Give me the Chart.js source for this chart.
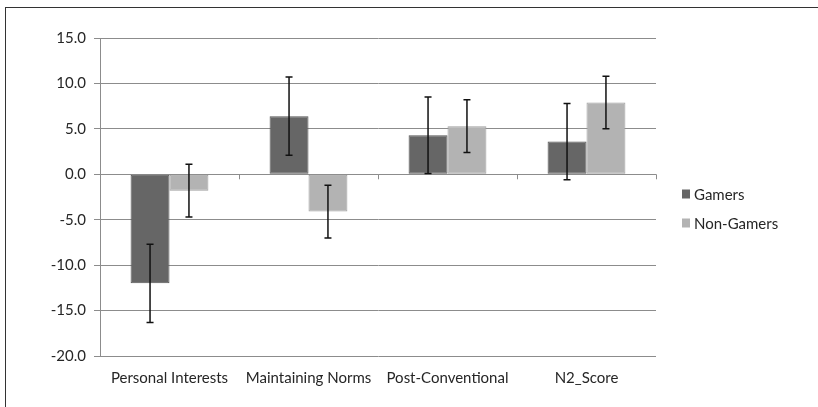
<!DOCTYPE html>
<html>
<head>
<meta charset="utf-8">
<script src="https://cdn.jsdelivr.net/npm/chart.js@4"></script>
<style>
  html, body { margin: 0; padding: 0; background: #fff; }
  #wrap { position: relative; width: 818px; height: 407px; overflow: hidden; }
  #frame { position: absolute; left: 5px; top: 7px; width: 900px; height: 500px; border: 1px solid #333; }
  #box { position: absolute; left: 0; top: 0; width: 818px; height: 407px; }
</style>
</head>
<body>
<div id="wrap">
  <div id="frame"></div>
  <div id="box"><canvas id="chart"></canvas></div>
</div>
<script>
const categories = ["Personal Interests", "Maintaining Norms", "Post-Conventional", "N2_Score"];
const gamers = [-12.0, 6.4, 4.3, 3.6];
const gamersErr = [4.3, 4.3, 4.2, 4.2];
const nonGamers = [-1.8, -4.1, 5.3, 7.9];
const nonGamersErr = [2.9, 2.9, 2.9, 2.9];
const errors = [gamersErr, nonGamersErr];

const FONT = "Lato, 'Open Sans', sans-serif";
const TEXT = "#262626";

// error bars + small ticks on the zero line
const extras = {
  id: "extras",
  afterDatasetsDraw(chart) {
    const ctx = chart.ctx;
    const y = chart.scales.y;
    const x = chart.scales.x;
    ctx.save();
    // zero-line ticks
    ctx.strokeStyle = "#8c8c8c";
    ctx.lineWidth = 1;
    const y0 = y.getPixelForValue(0);
    for (let i = 0; i < categories.length; i++) {
      const bx = i < categories.length - 1
        ? (x.getPixelForValue(i) + x.getPixelForValue(i + 1)) / 2
        : chart.chartArea.right;
      ctx.beginPath();
      ctx.moveTo(Math.round(bx) + 0.5, y0);
      ctx.lineTo(Math.round(bx) + 0.5, y0 + 5);
      ctx.stroke();
    }
    // error bars
    ctx.strokeStyle = "#111";
    ctx.lineWidth = 1.5;
    chart.data.datasets.forEach((ds, di) => {
      const meta = chart.getDatasetMeta(di);
      meta.data.forEach((bar, i) => {
        const v = ds.data[i];
        const e = errors[di][i];
        const top = y.getPixelForValue(v + e);
        const bot = y.getPixelForValue(v - e);
        const cx = bar.x;
        ctx.beginPath();
        ctx.moveTo(cx, top); ctx.lineTo(cx, bot);
        ctx.moveTo(cx - 3.5, top); ctx.lineTo(cx + 3.5, top);
        ctx.moveTo(cx - 3.5, bot); ctx.lineTo(cx + 3.5, bot);
        ctx.stroke();
      });
    });
    ctx.restore();
  },
  afterDraw(chart) {
    // legend on the right
    const ctx = chart.ctx;
    ctx.save();
    ctx.font = "15px " + FONT;
    ctx.textBaseline = "middle";
    ctx.textAlign = "left";
    const ys = [194, 223];
    chart.data.datasets.forEach((ds, i) => {
      ctx.fillStyle = ds.backgroundColor;
      ctx.fillRect(682, ys[i] - 4.5, 8, 9);
      ctx.fillStyle = TEXT;
      ctx.fillText(ds.label, 694, ys[i] + 1);
    });
    ctx.restore();
  }
};

new Chart(document.getElementById("chart"), {
  type: "bar",
  data: {
    labels: categories,
    datasets: [
      {
        label: "Gamers",
        data: gamers,
        backgroundColor: "#666666",
        borderColor: "#555555",
        borderWidth: 1,
        borderSkipped: false,
      },
      {
        label: "Non-Gamers",
        data: nonGamers,
        backgroundColor: "#b3b3b3",
        borderColor: "#a0a0a0",
        borderWidth: 1,
        borderSkipped: false,
      },
    ],
  },
  options: {
    responsive: true,
    maintainAspectRatio: false,
    animation: false,
    categoryPercentage: 0.56,
    barPercentage: 1.0,
    layout: { padding: { left: 5, right: 162, top: 38, bottom: 0 } },
    plugins: {
      legend: { display: false },
      tooltip: { enabled: false },
    },
    scales: {
      x: {
        grid: { display: false, drawTicks: false },
        border: { display: false },
        ticks: {
          color: TEXT,
          padding: 13,
          maxRotation: 0,
          font: { size: 15, family: FONT },
        },
        afterFit(scale) { scale.height = 51; },
      },
      y: {
        min: -20,
        max: 15,
        ticks: {
          stepSize: 5,
          color: TEXT,
          padding: 8,
          font: { size: 15, family: FONT },
          callback: (v) => v.toFixed(1),
        },
        grid: { color: "#8c8c8c", lineWidth: 1, tickLength: 6 },
        border: { display: true, color: "#8c8c8c", width: 1 },
        afterFit(scale) { scale.width = 95; },
      },
    },
  },
  plugins: [extras],
});
</script>
</body>
</html>
